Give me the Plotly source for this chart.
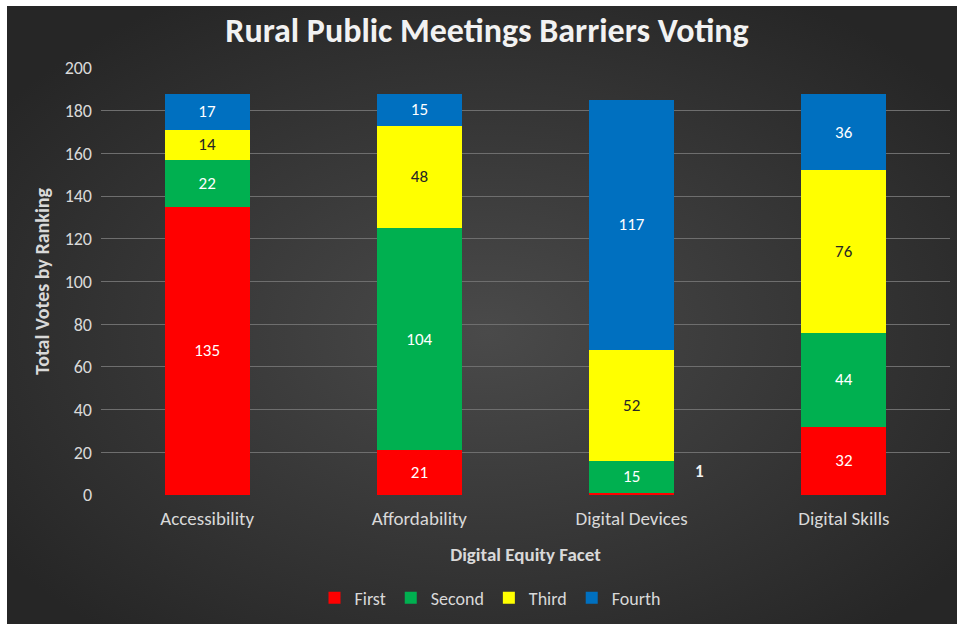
import base64
import plotly.graph_objects as go

categories = ["Accessibility", "Affordability", "Digital Devices", "Digital Skills"]
series_names = ["First", "Second", "Third", "Fourth"]
first = [135, 21, 1, 32]
second = [22, 104, 15, 44]
third = [14, 48, 52, 76]
fourth = [17, 15, 117, 36]
series_values = [first, second, third, fourth]
colors = ["#FF0000", "#00B050", "#FFFF00", "#0070C0"]
text_colors = ["#FFFFFF", "#FFFFFF", "#262626", "#FFFFFF"]
y_ticks = [0, 20, 40, 60, 80, 100, 120, 140, 160, 180, 200]

FONT = "Carlito, Lato, sans-serif"
W, H = 957, 624
L, T = 101, 68
PLOT_W, PLOT_H = 849, 427
R = W - L - PLOT_W
B = H - T - PLOT_H
pw, ph = PLOT_W, PLOT_H
BG_X0, BG_Y0 = 7, 6  # white page strip left/top

fig = go.Figure()
for name, vals, c, tc in zip(series_names, series_values, colors, text_colors):
    fig.add_trace(go.Bar(
        name=name, x=categories, y=vals, marker=dict(color=c, line=dict(width=0)),
        text=[str(v) for v in vals], textposition="inside", insidetextanchor="middle",
        textangle=0, textfont=dict(family=FONT, size=17, color=tc),
        hoverinfo="x+y+name",
    ))

# small values that do not fit in the bar are labelled beside it
for name, vals, c in zip(series_names, series_values, colors):
    for cat, v in zip(categories, vals):
        if v < 5:
            fig.add_annotation(x=cat, y=v, text="<b>" + str(v) + "</b>", showarrow=False,
                               xshift=68, yshift=21,
                               font=dict(family=FONT, size=17, color="#F2F2F2"))

# radial gradient background as inline svg
bw, bh = W - BG_X0 + 10, H - BG_Y0 + 10
svg = ('<svg xmlns="http://www.w3.org/2000/svg" width="%d" height="%d" viewBox="0 0 %d %d" preserveAspectRatio="none">'
       '<defs><radialGradient id="g" cx="50%%" cy="52%%" r="62%%">'
       '<stop offset="0%%" stop-color="#4a4a4a"/><stop offset="100%%" stop-color="#262626"/>'
       '</radialGradient></defs><rect width="%d" height="%d" fill="url(#g)"/></svg>') % (bw, bh, bw, bh, bw, bh)
src = "data:image/svg+xml;base64," + base64.b64encode(svg.encode()).decode()
fig.add_layout_image(dict(source=src, xref="paper", yref="paper",
                          x=(BG_X0 - L) / pw, y=1 + (T - BG_Y0) / ph, sizex=bw / pw, sizey=bh / ph,
                          xanchor="left", yanchor="top", sizing="stretch",
                          layer="below"))

fig.update_layout(
    width=W, height=H,
    margin=dict(l=L, r=R, t=T, b=B),
    paper_bgcolor="#FFFFFF", plot_bgcolor="rgba(0,0,0,0)",
    barmode="stack", bargap=0.6,
    uniformtext=dict(minsize=17, mode="hide"),
    title=dict(text="<b>Rural Public Meetings Barriers Voting</b>", x=(487 - L) / pw, xref="paper",
               xanchor="center", y=1 - 30 / H, yanchor="middle",
               font=dict(family=FONT, size=34, color="#F2F2F2")),
    font=dict(family=FONT, color="#D9D9D9", size=18),
    xaxis=dict(title=dict(text="<b>Digital Equity Facet</b>", font=dict(size=19, color="#D9D9D9"),
                          standoff=18),
               tickfont=dict(size=19, color="#D9D9D9"), showgrid=False, zeroline=False,
               showline=False, ticks="", ticklabelstandoff=10),
    yaxis=dict(title=dict(text="<b>Total Votes by Ranking</b>", font=dict(size=20, color="#D9D9D9"),
                          standoff=9),
               range=[0, 200], tickvals=y_ticks, ticktext=[str(t) for t in y_ticks],
               tickfont=dict(size=18, color="#D9D9D9"),
               showgrid=True, gridcolor="#6E6E6E", gridwidth=1,
               zeroline=True, zerolinecolor="rgba(0,0,0,0)", showline=False, ticks="",
               ticklabelstandoff=8),
    legend=dict(orientation="h", x=(490 - L) / pw, xanchor="center", y=(PLOT_H + T - 598) / ph,
                yanchor="middle", font=dict(size=18, color="#D9D9D9"),
                bgcolor="rgba(0,0,0,0)", itemwidth=30, traceorder="normal"),
    showlegend=True,
)

fig.write_html("out.html", config={"displayModeBar": False},
               post_script="document.body.style.margin='0';document.body.style.overflow='hidden';")
